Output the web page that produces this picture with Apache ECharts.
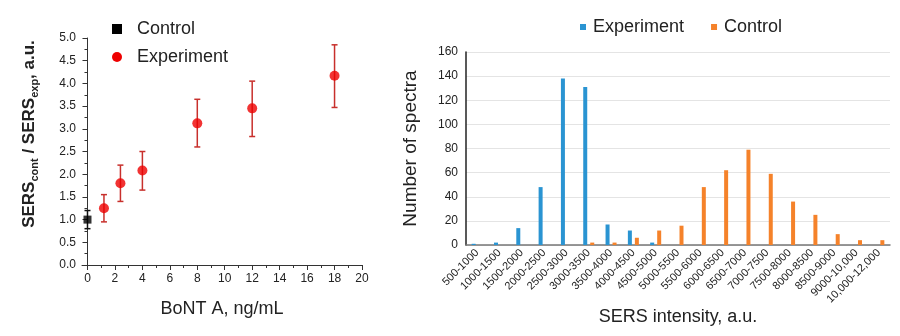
<!DOCTYPE html>
<html>
<head>
<meta charset="utf-8">
<script src="https://cdn.jsdelivr.net/npm/echarts@6/dist/echarts.min.js"></script>
<style>
  html, body { margin: 0; padding: 0; background: #fff; }
  #chart { width: 900px; height: 336px; }
</style>
</head>
<body>
<div id="chart"></div>
<script>
// Left panel: SERS ratio vs toxin concentration
const controlDose = [0];
const controlRatio = [1.0];
const controlLow = [0.8];
const controlHigh = [1.2];

const expDose = [1.2, 2.4, 4, 8, 12, 18];
const expRatio = [1.25, 1.8, 2.08, 3.12, 3.45, 4.17];
const expLow = [0.95, 1.4, 1.65, 2.6, 2.83, 3.47];
const expHigh = [1.55, 2.2, 2.5, 3.65, 4.05, 4.85];

const doseTicks = [0, 2, 4, 6, 8, 10, 12, 14, 16, 18, 20];
const doseMinorTicks = [1, 3, 5, 7, 9, 11, 13, 15, 17, 19];

// Right panel: histogram of SERS intensities
const intensityBins = ['500-1000', '1000-1500', '1500-2000', '2000-2500', '2500-3000',
  '3000-3500', '3500-4000', '4000-4500', '4500-5000', '5000-5500', '5500-6000',
  '6000-6500', '6500-7000', '7000-7500', '7500-8000', '8000-8500', '8500-9000',
  '9000-10,000', '10,000-12,000'];
const experimentCounts = [1, 2, 14, 48, 138, 131, 17, 12, 2, 0, 0, 0, 0, 0, 0, 0, 0, 0, 0];
const controlCounts = [0, 0, 0, 0, 0, 2, 2, 6, 12, 16, 48, 62, 79, 59, 36, 25, 9, 4, 4];

const FONT = 'Liberation Sans, Arial, sans-serif';
const TXT = '#222';
const ERR_RED = '#c8302c';

function pairs(xs, ys) { return xs.map((x, i) => [x, ys[i]]); }
function errData(xs, lo, hi) { return xs.map((x, i) => [x, lo[i], hi[i]]); }

function errorBar(color) {
  return function (params, api) {
    const x = api.value(0);
    const lo = api.coord([x, api.value(1)]);
    const hi = api.coord([x, api.value(2)]);
    const cap = 3;
    const st = { stroke: color, lineWidth: 1.5 };
    return {
      type: 'group',
      children: [
        { type: 'line', shape: { x1: lo[0], y1: lo[1], x2: hi[0], y2: hi[1] }, style: st },
        { type: 'line', shape: { x1: lo[0] - cap, y1: lo[1], x2: lo[0] + cap, y2: lo[1] }, style: st },
        { type: 'line', shape: { x1: hi[0] - cap, y1: hi[1], x2: hi[0] + cap, y2: hi[1] }, style: st }
      ]
    };
  };
}

const chart = echarts.init(document.getElementById('chart'), null, { renderer: 'canvas' });

const option = {
  animation: false,
  textStyle: { fontFamily: FONT },
  grid: [
    { left: 82, right: 538, top: 38, bottom: 71 },
    { left: 466, right: 10, top: 52, bottom: 91 }
  ],
  legend: [
    {
      data: [
        { name: 'Control', icon: 'rect', itemStyle: { color: '#000' } },
        { name: 'Experiment', icon: 'circle', itemStyle: { color: '#ee0000' } }
      ],
      orient: 'vertical',
      left: 107,
      top: 14,
      itemWidth: 10,
      itemHeight: 10,
      itemGap: 8,
      textStyle: { fontSize: 18, color: TXT, fontFamily: FONT, lineHeight: 20, padding: [0, 0, 0, 10] }
    },
    {
      data: [
        { name: 'Experiment ', icon: 'rect' },
        { name: 'Control ', icon: 'rect' }
      ],
      left: 575,
      top: 13,
      itemWidth: 6,
      itemHeight: 6,
      itemGap: 22,
      textStyle: { fontSize: 18, color: TXT, fontFamily: FONT, padding: [0, 0, 0, 2] }
    }
  ],
  xAxis: [
    {
      gridIndex: 0,
      type: 'value',
      min: -0.4,
      max: 20,
      name: 'BoNT A, ng/mL',
      nameLocation: 'middle',
      nameGap: 35,
      nameMoveOverlap: false,
      nameTextStyle: { fontSize: 18, color: TXT, fontFamily: FONT },
      axisLine: { show: true, lineStyle: { color: '#333', width: 1 } },
      axisTick: { show: true, length: 5, customValues: doseTicks, lineStyle: { color: '#333' } },
      axisLabel: { customValues: doseTicks, fontSize: 12, color: TXT, margin: 8 },
      splitLine: { show: false }
    },
    {
      // shorter ticks at the odd doses
      gridIndex: 0,
      type: 'value',
      min: -0.4,
      max: 20,
      position: 'bottom',
      axisLine: { show: false },
      axisTick: { show: true, length: 3, customValues: doseMinorTicks, lineStyle: { color: '#333' } },
      axisLabel: { show: false },
      splitLine: { show: false }
    },
    {
      gridIndex: 1,
      type: 'category',
      data: intensityBins,
      name: 'SERS intensity, a.u.',
      nameLocation: 'middle',
      nameGap: 63,
      nameMoveOverlap: false,
      nameTextStyle: { fontSize: 18, color: TXT, fontFamily: FONT },
      axisLine: { show: true, lineStyle: { color: '#777', width: 1.5 } },
      axisTick: { show: false },
      axisLabel: { rotate: 45, fontSize: 11, color: TXT, margin: 6, interval: 0 },
      splitLine: { show: false }
    }
  ],
  yAxis: [
    {
      gridIndex: 0,
      type: 'value',
      min: 0,
      max: 5,
      interval: 0.5,
      axisLine: { show: true, lineStyle: { color: '#333', width: 1 } },
      axisTick: { show: true, length: 5, lineStyle: { color: '#333' } },
      minorTick: { show: true, splitNumber: 2, length: 3, lineStyle: { color: '#333' } },
      axisLabel: { fontSize: 12, color: TXT, margin: 6, formatter: v => v.toFixed(1) },
      splitLine: { show: false }
    },
    {
      gridIndex: 1,
      type: 'value',
      min: 0,
      max: 160,
      interval: 20,
      name: 'Number of spectra',
      nameLocation: 'middle',
      nameGap: 46,
      nameMoveOverlap: false,
      nameTextStyle: { fontSize: 19, color: TXT, fontFamily: FONT },
      axisLine: { show: true, lineStyle: { color: '#222', width: 1.5 } },
      axisTick: { show: false },
      axisLabel: { fontSize: 12, color: TXT, margin: 8 },
      splitLine: { show: true, lineStyle: { color: '#e4e4e4', width: 1 } }
    }
  ],
  graphic: [
    {
      type: 'text',
      x: 29,
      y: 134,
      rotation: Math.PI / 2,
      style: {
        text: '{m|SERS}{s|cont}{m| / SERS}{s|exp}{m|, a.u.}',
        align: 'center',
        verticalAlign: 'middle',
        fill: TXT,
        rich: {
          m: { fontSize: 17, fontWeight: 'bold', fontFamily: FONT, lineHeight: 22, verticalAlign: 'middle', fill: TXT },
          s: { fontSize: 11, fontWeight: 'bold', fontFamily: FONT, lineHeight: 10, verticalAlign: 'bottom', fill: TXT }
        }
      }
    }
  ],
  series: [
    {
      name: 'Control',
      type: 'custom',
      xAxisIndex: 0,
      yAxisIndex: 0,
      renderItem: errorBar('#111'),
      data: errData(controlDose, controlLow, controlHigh),
      silent: true,
      itemStyle: { color: '#000' },
      z: 2
    },
    {
      name: 'Experiment',
      type: 'custom',
      xAxisIndex: 0,
      yAxisIndex: 0,
      renderItem: errorBar(ERR_RED),
      data: errData(expDose, expLow, expHigh),
      silent: true,
      itemStyle: { color: '#ee0000' },
      z: 2
    },
    {
      name: 'Control',
      type: 'scatter',
      xAxisIndex: 0,
      yAxisIndex: 0,
      symbol: 'rect',
      symbolSize: 8,
      itemStyle: { color: '#000' },
      data: pairs(controlDose, controlRatio),
      z: 3
    },
    {
      name: 'Experiment',
      type: 'scatter',
      xAxisIndex: 0,
      yAxisIndex: 0,
      symbol: 'circle',
      symbolSize: 10,
      itemStyle: { color: '#ee0000' },
      data: pairs(expDose, expRatio),
      z: 3
    },
    {
      name: 'Experiment ',
      type: 'bar',
      xAxisIndex: 2,
      yAxisIndex: 1,
      barWidth: 4,
      barGap: '75%',
      itemStyle: { color: '#2a94d2' },
      data: experimentCounts
    },
    {
      name: 'Control ',
      type: 'bar',
      xAxisIndex: 2,
      yAxisIndex: 1,
      barWidth: 4,
      barGap: '75%',
      itemStyle: { color: '#f5822a' },
      data: controlCounts
    }
  ]
};

chart.setOption(option);
</script>
</body>
</html>
